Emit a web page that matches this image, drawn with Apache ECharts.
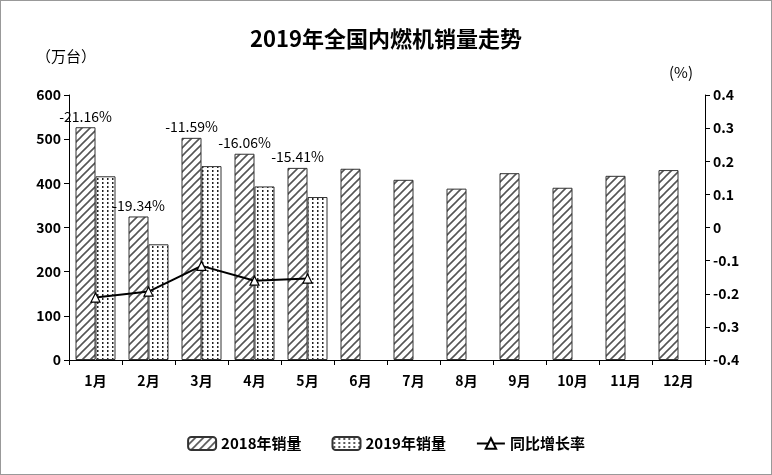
<!DOCTYPE html>
<html>
<head>
<meta charset="utf-8">
<script src="https://cdn.jsdelivr.net/npm/echarts@6/dist/echarts.min.js"></script>
<style>
  html, body { margin: 0; padding: 0; background: #fff; }
  #main { width: 770px; height: 473px; border: 1px solid #999; }
</style>
</head>
<body>
<div id="main"></div>
<script type="text/javascript">
  // 数据
  var months = ['1月', '2月', '3月', '4月', '5月', '6月', '7月', '8月', '9月', '10月', '11月', '12月'];
  var sales2018 = [527, 325, 503, 467, 435, 433, 408, 388, 423, 390, 417, 430];
  var sales2019 = [416, 262, 439, 393, 369];
  var growth = [-0.2116, -0.1934, -0.1159, -0.1606, -0.1541];
  var growthText = ['-21.16%', '-19.34%', '-11.59%', '-16.06%', '-15.41%'];

  // 斜线填充
  function hatch() {
    var c = document.createElement('canvas');
    c.width = 8; c.height = 8;
    var g = c.getContext('2d');
    g.fillStyle = '#fff'; g.fillRect(0, 0, 8, 8);
    g.strokeStyle = '#555'; g.lineWidth = 1.6;
    g.beginPath();
    g.moveTo(0, 8); g.lineTo(8, 0);
    g.moveTo(-2, 2); g.lineTo(2, -2);
    g.moveTo(6, 10); g.lineTo(10, 6);
    g.stroke();
    return c;
  }
  // 点状填充
  function dots() {
    var c = document.createElement('canvas');
    c.width = 5; c.height = 4;
    var g = c.getContext('2d');
    g.fillStyle = '#fff'; g.fillRect(0, 0, 5, 4);
    g.fillStyle = '#222';
    g.fillRect(1, 1, 1.5, 2);
    return c;
  }

  var myChart = echarts.init(document.getElementById('main'));
  var font = '"Noto Sans CJK SC", sans-serif';
  var option = {
    textStyle: { fontFamily: font, color: '#000' },
    title: {
      text: '2019年全国内燃机销量走势',
      left: 'center', top: 22,
      textStyle: { fontSize: 22, fontWeight: 'bold', fontFamily: font, color: '#000' }
    },
    graphic: [
      { type: 'text', left: 35, top: 48, style: { text: '（万台）', fontSize: 15, fontFamily: font, fill: '#000' } },
      { type: 'text', left: 668, top: 64, style: { text: '(%)', fontSize: 15, fontFamily: font, fill: '#000' } }
    ],
    legend: {
      bottom: 18, left: 'center', itemGap: 30, itemWidth: 28, itemHeight: 13,
      textStyle: { fontSize: 15, fontWeight: 'bold', fontFamily: font, color: '#000' },
      data: ['2018年销量', '2019年销量', '同比增长率']
    },
    grid: { left: 68, right: 66, top: 94, bottom: 114 },
    xAxis: {
      type: 'category', data: months,
      axisLine: { lineStyle: { color: '#000' } },
      axisTick: { show: true, lineStyle: { color: '#000' } },
      axisLabel: { fontSize: 14, fontWeight: 'bold', color: '#000', margin: 14 }
    },
    yAxis: [
      {
        type: 'value', min: 0, max: 600, interval: 100,
        axisLine: { show: true, lineStyle: { color: '#000' } },
        axisTick: { show: true },
        splitLine: { show: false },
        axisLabel: { fontSize: 14, fontWeight: 'bold', color: '#000' }
      },
      {
        type: 'value', min: -0.4, max: 0.4, interval: 0.1,
        axisLine: { show: true, lineStyle: { color: '#000' } },
        axisTick: { show: true },
        splitLine: { show: false },
        axisLabel: {
          fontSize: 14, fontWeight: 'bold', color: '#000',
          formatter: function (v) { return Math.round(v * 10) / 10; }
        }
      }
    ],
    series: [
      {
        name: '2018年销量', type: 'bar', data: sales2018,
        barWidth: 20, barGap: '0%',
        itemStyle: { color: { image: hatch(), repeat: 'repeat' }, borderColor: '#333', borderWidth: 1 },
        label: {
          show: true, position: 'top', fontSize: 14, color: '#000', distance: 4,
          formatter: function (p) { return growthText[p.dataIndex] || ''; }
        }
      },
      {
        name: '2019年销量', type: 'bar', data: sales2019,
        barWidth: 20,
        itemStyle: { color: { image: dots(), repeat: 'repeat' }, borderColor: '#333', borderWidth: 1 }
      },
      {
        name: '同比增长率', type: 'line', yAxisIndex: 1, data: growth,
        symbol: 'triangle', symbolSize: 9,
        lineStyle: { color: '#000', width: 2 },
        itemStyle: { color: '#fff', borderColor: '#000', borderWidth: 1.2 }
      }
    ]
  };
  myChart.setOption(option);
</script>
</body>
</html>
